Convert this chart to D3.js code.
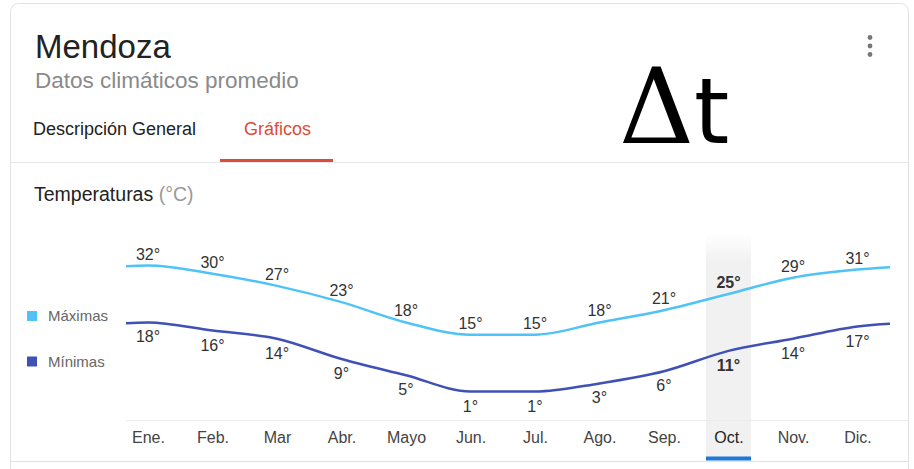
<!DOCTYPE html>
<html>
<head>
<meta charset="utf-8">
<script src="https://cdn.jsdelivr.net/npm/d3@7"></script>
<style>
  body { margin: 0; background: #fff; font-family: "Liberation Sans", Arial, sans-serif; }
</style>
</head>
<body>
<div class="chart"></div>
<script>
// climate data, Mendoza
const months = ['Ene.', 'Feb.', 'Mar', 'Abr.', 'Mayo', 'Jun.', 'Jul.', 'Ago.', 'Sep.', 'Oct.', 'Nov.', 'Dic.'];
const maxTemps = [32, 30, 27, 23, 18, 15, 15, 18, 21, 25, 29, 31];
const minTemps = [18, 16, 14, 9, 5, 1, 1, 3, 6, 11, 14, 17];
const seriesNames = ['Máximas', 'Mínimas'];
const seriesColors = ['#4fc3f7', '#3f51b5'];
const highlightMonth = 'Oct.';

const _width = 914, _height = 469;
const font = '"Liberation Sans", Arial, sans-serif';

let svg = d3.select('.chart')
    .append('svg')
    .attr('width', _width)
    .attr('height', _height)
    .style('display', 'block');

let defs = svg.append('defs');
let grad = defs.append('linearGradient')
    .attr('id', 'bandGrad')
    .attr('x1', 0).attr('y1', 0).attr('x2', 0).attr('y2', 1);
grad.append('stop').attr('offset', 0).attr('stop-color', '#f1f1f1').attr('stop-opacity', 0);
grad.append('stop').attr('offset', 0.13).attr('stop-color', '#f1f1f1').attr('stop-opacity', 1);
grad.append('stop').attr('offset', 1).attr('stop-color', '#f1f1f1').attr('stop-opacity', 1);
defs.append('clipPath').attr('id', 'plotClip')
    .append('rect').attr('x', 126).attr('y', 200).attr('width', 764).attr('height', 240);

// card
svg.append('rect')
    .attr('x', 10.5).attr('y', 3.5)
    .attr('width', 898).attr('height', 520)
    .attr('rx', 8)
    .attr('fill', '#fff')
    .attr('stroke', '#e2e2e2');

// header
svg.append('text')
    .attr('x', 35).attr('y', 58)
    .style('font', `33px ${font}`)
    .attr('fill', '#222')
    .text('Mendoza');
svg.append('text')
    .attr('x', 35).attr('y', 88)
    .style('font', `22.5px ${font}`)
    .attr('fill', '#8a8a8a')
    .text('Datos climáticos promedio');

// menu dots
svg.append('g').selectAll('circle')
    .data([37.5, 46, 54.5])
    .enter().append('circle')
    .attr('cx', 870).attr('cy', d => d)
    .attr('r', 2.4)
    .attr('fill', '#777');

// big delta t, one text with two faces
let dt = svg.append('text')
    .attr('x', 619).attr('y', 142.5)
    .attr('fill', '#000');
dt.append('tspan')
    .attr('font-family', '"DejaVu Serif", serif')
    .attr('font-size', 104)
    .text('Δ');
dt.append('tspan')
    .attr('font-family', '"DejaVu Sans", sans-serif')
    .attr('font-size', 90)
    .text('t');

// tabs
svg.append('text')
    .attr('x', 33).attr('y', 135)
    .style('font', `18px ${font}`)
    .attr('fill', '#222')
    .text('Descripción General');
svg.append('text')
    .attr('x', 244).attr('y', 135)
    .style('font', `18px ${font}`)
    .attr('fill', '#dd4b39')
    .text('Gráficos');
svg.append('line')
    .attr('x1', 11).attr('x2', 908).attr('y1', 162.5).attr('y2', 162.5)
    .attr('stroke', '#e6e6e6');
svg.append('rect')
    .attr('x', 220).attr('y', 159).attr('width', 113).attr('height', 3)
    .attr('fill', '#dd4b39');

// chart title
let title = svg.append('text')
    .attr('x', 34).attr('y', 201)
    .style('font', `19.5px ${font}`)
    .attr('fill', '#222');
title.append('tspan').text('Temperaturas ');
title.append('tspan').attr('fill', '#999').text('(°C)');

// scales
let x = d3.scalePoint()
    .domain(months)
    .range([148, 857.5]);
let y = d3.scaleLinear()
    .domain([-6, 40])
    .range([420, 233]);
let step = x.step();

// highlighted month band
svg.append('rect')
    .attr('x', x(highlightMonth) - 22.5).attr('y', 233)
    .attr('width', 45).attr('height', 227)
    .attr('fill', 'url(#bandGrad)');
svg.append('rect')
    .attr('x', x(highlightMonth) - 22.5).attr('y', 456.5)
    .attr('width', 45).attr('height', 4)
    .attr('fill', '#1e78d6');

// baseline
svg.append('line')
    .attr('x1', 126).attr('x2', 908).attr('y1', 420.5).attr('y2', 420.5)
    .attr('stroke', '#ebebeb');

// month axis
let xAxis = svg.append('g')
    .attr('transform', 'translate(0,430)')
    .call(d3.axisBottom(x).tickSize(0).tickPadding(0));
xAxis.select('.domain').remove();
xAxis.selectAll('text')
    .attr('dy', '0.8em')
    .attr('y', 0)
    .style('font', `16px ${font}`)
    .attr('fill', d => d === highlightMonth ? '#222' : '#444');

// series lines, wrapped round the year at both ends
let series = [maxTemps, minTemps];
let line = d3.line()
    .x(d => d.x)
    .y(d => y(d.v))
    .curve(d3.curveMonotoneX);
let plot = svg.append('g').attr('clip-path', 'url(#plotClip)');
series.forEach((vals, k) => {
    let pts = vals.map((v, i) => ({x: x(months[i]), v: v}));
    pts.unshift({x: x(months[0]) - step, v: vals[vals.length - 1]});
    pts.push({x: x(months[months.length - 1]) + step, v: vals[0]});
    plot.append('path')
        .datum(pts)
        .attr('fill', 'none')
        .attr('stroke', seriesColors[k])
        .attr('stroke-width', 2.5)
        .attr('d', line);
});

// value labels
svg.append('g').selectAll('text')
    .data(maxTemps)
    .enter().append('text')
    .attr('x', (d, i) => x(months[i]))
    .attr('y', d => y(d) - 6)
    .attr('text-anchor', 'middle')
    .style('font', (d, i) => (months[i] === highlightMonth ? 'bold ' : '') + `16px ${font}`)
    .attr('fill', '#333')
    .text(d => d + '°');
svg.append('g').selectAll('text')
    .data(minTemps)
    .enter().append('text')
    .attr('x', (d, i) => x(months[i]))
    .attr('y', d => y(d) + 20)
    .attr('text-anchor', 'middle')
    .style('font', (d, i) => (months[i] === highlightMonth ? 'bold ' : '') + `16px ${font}`)
    .attr('fill', '#333')
    .text(d => d + '°');

// legend
let legend = svg.append('g').selectAll('g')
    .data(seriesNames)
    .enter().append('g')
    .attr('transform', (d, i) => `translate(27,${311 + i * 45.5})`);
legend.append('rect')
    .attr('width', 10).attr('height', 10)
    .attr('fill', (d, i) => seriesColors[i]);
legend.append('text')
    .attr('x', 21).attr('y', 10)
    .style('font', `15px ${font}`)
    .attr('fill', '#666')
    .text(d => d);

// bottom divider
svg.append('line')
    .attr('x1', 11).attr('x2', 908).attr('y1', 461.5).attr('y2', 461.5)
    .attr('stroke', '#e2e2e2');
</script>
</body>
</html>
